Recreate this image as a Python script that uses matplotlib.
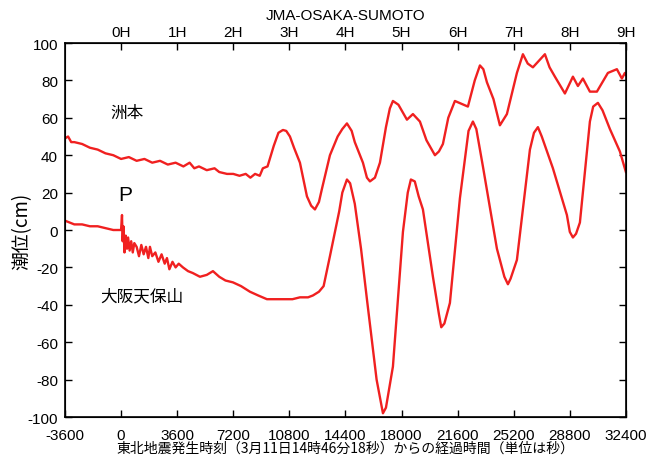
import matplotlib
matplotlib.use("Agg")
import matplotlib.pyplot as plt

# --- data (seconds since quake, tide level cm) ---
sumoto_t = [-3600, -3400, -3200, -3000, -2500, -2000, -1500, -1000, -500, 0, 500, 1000, 1500,
            2000, 2500, 3000, 3500, 4000, 4400, 4700, 5000, 5500, 6000, 6300, 6800, 7200, 7600,
            8000, 8300, 8600, 8900, 9100, 9400, 9800, 10100, 10389, 10600, 10838, 11100, 11480,
            11929, 12200, 12443, 12700, 12892, 13405, 13900, 14200, 14496, 14800, 15000, 15523,
            15779, 15972, 16293, 16614, 17000, 17250, 17448, 17800, 18347, 18732, 19180, 19600,
            20143, 20400, 20656, 21000, 21426, 22260, 22700, 23031, 23250, 23480, 23900, 24314,
            24763, 25405, 25790, 26100, 26432, 27202, 27500, 27844, 28486, 28999, 29320, 29640,
            30089, 30539, 31244, 31822, 32143, 32335, 32400]
sumoto_v = [49, 50, 47, 47, 46, 44, 43, 41, 40, 38, 39, 37, 38,
            36, 37, 35, 36, 34, 36, 33, 34, 32, 33, 31, 30, 30, 29,
            30, 28, 30, 29, 33, 34, 45, 52, 53.5, 53, 50, 44, 36,
            18, 13, 11, 15, 22, 40, 50, 54, 57, 53, 47, 36,
            28, 26, 28, 36, 55, 65, 69, 67, 59, 62, 58, 48,
            40, 42, 46, 60, 69, 66, 80, 88, 86, 79, 70, 56,
            62, 84, 94, 89, 87, 94, 87, 82, 73, 82, 77, 81,
            74, 74, 84, 86, 81, 84, 83]

osaka_t = [-3600, -3300, -3000, -2500, -2000, -1500, -1000, -500, -200, 0, 60, 100, 150, 220,
           300, 380, 450, 550, 650, 750, 850, 1000, 1150, 1300, 1450, 1600, 1750, 1854, 2000,
           2200, 2400, 2600, 2800, 2945, 3100, 3300, 3500, 3700, 3972, 4300, 4600, 5063, 5500,
           5897, 6300, 6700, 7181, 7700, 8271, 8800, 9362, 10000, 11000, 11480, 12000, 12314,
           12700, 13000, 13405, 14000, 14200, 14496, 14700, 15000, 15400, 15779, 16400, 16807,
           17000, 17448, 18090, 18400, 18600, 18850, 19100, 19373, 20015, 20400, 20550, 20750,
           21105, 21747, 22300, 22581, 22800, 23223, 24122, 24600, 24828, 25000, 25405, 26240,
           26500, 26753, 27000, 27716, 28614, 28800, 28999, 29200, 29448, 30089, 30300, 30603,
           30900, 31373, 32014, 32400]
osaka_v = [5, 4, 3, 3, 2, 2, 1, 0, 0, 0, 8, -6, 2, -12,
           -3, -10, -4, -11, -6, -12, -7, -9, -14, -8, -13, -9, -15, -9, -14,
           -12, -17, -13, -18, -15, -21, -17, -20, -18, -20, -22, -23, -25, -24,
           -22, -25, -27, -28, -30, -33, -35, -37, -37, -37, -36, -36, -35,
           -33, -30, -14, 10, 20, 27, 25, 14, -10, -37, -80, -98,
           -95, -73, -1, 20, 27, 26, 18, 11, -25, -45, -52, -50,
           -39, 17, 53, 58, 54, 34, -10, -25, -29, -26, -16, 43,
           52, 55, 50, 33, 8, -1, -4, -2, 4, 58, 66, 68,
           64, 54, 42, 31]

x_ticks = [-3600, 0, 3600, 7200, 10800, 14400, 18000, 21600, 25200, 28800, 32400]
top_ticks = [0, 3600, 7200, 10800, 14400, 18000, 21600, 25200, 28800, 32400]
top_labels = ["0H", "1H", "2H", "3H", "4H", "5H", "6H", "7H", "8H", "9H"]
y_ticks = [-100, -80, -60, -40, -20, 0, 20, 40, 60, 80, 100]

plt.rcParams['font.family'] = ['Liberation Sans', 'Noto Sans CJK JP', 'DejaVu Sans']
plt.rcParams['axes.unicode_minus'] = False

fig = plt.figure(figsize=(6.53, 4.56), dpi=100)
ax = fig.add_axes([0.0995, 0.0833, 0.859, 0.8202])

red = '#f02020'
ax.plot(sumoto_t, sumoto_v, color=red, lw=1.7)
ax.plot(osaka_t, osaka_v, color=red, lw=1.7)

ax.set_xlim(-3600, 32400)
ax.set_ylim(-100, 100)
ax.set_xticks(x_ticks)
ax.set_yticks(y_ticks)
ax.tick_params(direction='in', length=5, width=1, labelsize=11, right=True)
ax.tick_params(axis='x', pad=8)
ax.tick_params(axis='y', pad=5)
for s in ax.spines.values():
    s.set_linewidth(1.2)

ax2 = ax.twiny()
ax2.set_xlim(ax.get_xlim())
ax2.set_xticks(top_ticks)
ax2.set_xticklabels(top_labels)
ax2.tick_params(direction='in', length=5, width=1, labelsize=11, pad=3)
ax2.set_title("JMA-OSAKA-SUMOTO", fontsize=11, pad=4)

ax.set_ylabel("潮位(cm)", fontsize=13.5, family=['Noto Sans CJK JP'])
ax.yaxis.set_label_coords(-0.058, 0.5)
ax.set_xlabel("東北地震発生時刻（3月11日14時46分18秒）からの経過時間（単位は秒）",
              fontsize=10, family=['Noto Sans CJK JP'], labelpad=-1)

ax.text(380, 63, "洲本", fontsize=12, family=['Noto Sans CJK JP'], ha='center', va='center')
ax.text(1330, -35, "大阪天保山", fontsize=12, family=['Noto Sans CJK JP'], ha='center', va='center')
ax.text(250, 19, "P", fontsize=15, ha='center', va='center')

fig.savefig("out.png", dpi=100)
